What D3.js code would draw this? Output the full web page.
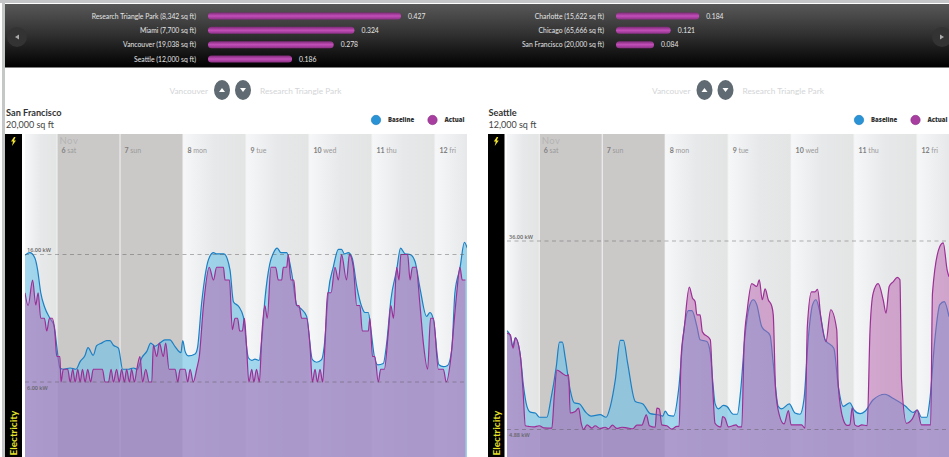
<!DOCTYPE html>
<html>
<head>
	<meta charset="utf-8">
	<script src="https://d3js.org/d3.v7.min.js"></script>
	<title>Electricity baseline vs actual</title>
	<style>
		html, body { margin: 0; padding: 0; background: #fff; overflow: hidden; }
		svg { display: block; font-family: Lato, sans-serif; }
		.domain { display: none; }
	</style>
</head>
<body>
	<div id="chart"></div>

	<script type="text/javascript">
		// ranking bars in the dark header
		var rankLeftNames = ["Research Triangle Park (8,342 sq ft)", "Miami (7,700 sq ft)", "Vancouver (19,038 sq ft)", "Seattle (12,000 sq ft)"];
		var rankLeftValues = [0.427, 0.324, 0.278, 0.186];
		var rankRightNames = ["Charlotte (15,622 sq ft)", "Chicago (65,666 sq ft)", "San Francisco (20,000 sq ft)"];
		var rankRightValues = [0.184, 0.121, 0.084];

		var dayLabels = ["6 sat", "7 sun", "8 mon", "9 tue", "10 wed", "11 thu", "12 fri"];
		var weekendDays = ["6 sat", "7 sun"];
		var legendNames = ["Baseline", "Actual"];

		// [hours since Nov 6 00:00, kW]
		var sfBaseline = [[-12.2,15.95],[-10.3,16.15],[-8.4,15.7],[-7.4,14.8],[-6.2,13],[-4.6,11.8],[-2.7,11],[-1.1,10.4],[-0.1,8.8],[1.1,7.1],[2.4,7],[5,7.1],[7.2,7],[8.8,7.6],[10.7,8.1],[11.8,8.7],[13.8,8.1],[15.1,8.85],[17,9.05],[18.9,9.25],[20.2,9.25],[21.4,8.9],[23.4,8.65],[25,7],[27.2,7],[29.1,7.1],[30.6,7],[32.3,7.9],[34.2,8.4],[35.7,9.05],[37.3,8.8],[39.2,9.05],[41.1,9.3],[43,9.3],[44.9,8.8],[47.2,8.3],[47.9,9.25],[48.8,8.4],[50,8.05],[52.6,8.2],[53.5,8.65],[55.1,12.2],[57.7,15.6],[59.6,16.15],[60.8,16.05],[63.6,16.05],[65.9,14.8],[67.2,12.3],[69.3,11.9],[71,11.1],[72.9,7.9],[74.2,7.7],[75.4,7.8],[77,7.7],[78,9.3],[79.2,12.45],[81.1,15.3],[82.4,16.1],[83.9,16.5],[85.3,16.15],[87.5,16.15],[89.4,14.55],[91.3,12.05],[93.2,11.7],[95.1,11.15],[97.3,7.75],[98.9,7.55],[100.8,7.75],[101.8,8.8],[103.4,13.1],[105.3,15.05],[107.2,16.4],[108.4,16.4],[109.5,16.05],[111,16.15],[112.5,15.7],[114.2,13.5],[116.1,11.9],[117.3,11.45],[118.6,11.45],[119.6,10.1],[120.9,8],[122.2,7.35],[124.3,7.45],[125.6,9.05],[127.2,12.45],[129.4,14.8],[130.9,16.5],[132.6,16.05],[134.5,16],[136.4,15.45],[138.3,13.35],[140.8,11.15],[142.1,11.45],[143.4,10.9],[145.5,7.35],[147.2,7.2],[148.8,7.3],[150.4,8.55],[151.6,13],[153.5,14.9],[155.2,16.95],[156.3,16.5]];
		var sfActual = [[-12.2,13],[-11,12],[-9.3,14],[-8.1,12.05],[-7.2,13],[-6.2,11],[-4.8,11],[-3.9,10],[-2.9,11],[-1.8,11],[-0.8,9.85],[-0.1,8],[1.1,8],[1.5,6],[2.4,7],[4.1,7],[5,6],[6,7],[6.9,6],[7.9,7],[8.8,6],[9.7,7],[10.7,6],[11.7,7],[12.8,6],[13.8,7],[17.3,7],[18.3,6],[19.6,6],[20.6,7],[21.5,6],[22.7,7],[23.7,6],[24.6,7],[25.7,6],[26.5,7],[27.6,6],[28.4,7],[29.5,6],[30.4,7],[31.6,8],[32.6,6],[33.8,7],[35.1,6],[36.1,6],[36.7,8.9],[38,8],[39,9.05],[40.5,8],[41.4,9.05],[42.7,7],[45,7],[46,6],[46.9,7],[48.8,7],[49.8,6],[50.7,7],[51.9,6],[53.2,7],[54.2,8],[55.8,12],[58,15],[59.6,14],[60.8,15],[63.4,15],[64,14],[65.7,14],[66.8,10.1],[67.8,11],[68.8,11],[69.6,10],[70.6,10],[71.4,11],[72.2,8.8],[73.1,6],[74.2,7],[75,6],[76,7],[77.1,6],[78,9.6],[79.2,12],[80.1,11],[81.5,15],[83.3,15],[84.3,14],[85.6,14],[86.2,15],[87.5,15],[88.1,16],[89.1,14],[90.2,14],[91.2,12],[92.2,12],[93.2,11],[95.1,11],[96.4,8.8],[97.3,6],[98.3,7],[99.2,6],[100.2,7],[101.2,6],[102.1,9],[103.1,13],[104.4,13],[105.9,15],[107.2,14],[108.4,16],[110.3,14],[111.4,16],[112.9,15],[114.2,12],[115.4,12],[116.3,10],[118.6,10],[119.2,11],[120.2,8],[121.1,8],[122.4,6],[123.3,7],[124.7,7],[126.2,9.85],[127.2,12],[128.2,11],[129.4,15],[130.3,14],[131,16],[133.6,16],[134.5,14],[135.4,15],[136.8,15],[138.3,12],[139.6,9],[141.2,7],[142.3,11],[143.4,11],[145.3,7],[147.2,7],[148.3,6],[150.1,8],[151.4,11],[152.3,13],[153.5,15],[154.4,14],[155.6,14]];
		var seBaseline = [[-12.3,21.2],[-11,20.24],[-10.2,18.6],[-9.1,20],[-7.2,17],[-6,12],[-4.7,8.7],[-3.4,7.75],[-1.5,7.6],[0.1,6.9],[2.9,6.9],[4.4,9.8],[6.5,15.3],[7.7,19.3],[8.8,19.3],[9.9,16.7],[11.8,11.4],[13.3,9.3],[15.4,9.1],[17.5,7.85],[19.8,7.1],[23.2,7.35],[25.5,6.9],[27.1,8.7],[29,13.1],[30.9,19.6],[32.1,19.6],[33.7,15.8],[36.6,9.5],[39.5,9.1],[42.3,7.5],[45.5,7.3],[47.1,7.1],[48,7.9],[49.3,7.2],[51.2,7.1],[53.1,11.4],[55,20.8],[56.9,24.5],[58.2,24.5],[60.1,21.9],[61.3,19.7],[63.9,19.4],[65.2,17.5],[66.2,12.5],[67,9.2],[68.3,8.3],[70.2,8.85],[71.5,8.7],[74,7.4],[75.5,7.4],[76.8,11.4],[78.4,20.2],[80.3,25.5],[81.6,26.3],[82.9,25.5],[84.8,21.9],[88,20.4],[89.2,15.8],[91.1,8.7],[92.4,8.3],[95.3,9.1],[97.5,7.6],[99.4,7.4],[100.9,9.8],[102.6,20.2],[104.2,25.5],[105.5,26.3],[106.8,24.6],[109,19.7],[112.3,18.3],[114,12],[115.9,8.7],[118.4,9.3],[120,8.1],[122.3,7.5],[124.2,7.9],[127.3,9.8],[131.8,10.7],[135,10],[139.4,8.8],[142.6,7.7],[144.1,8.1],[145.7,6.9],[147.7,6.9],[148.9,9.8],[150.8,19.7],[152.7,25.5],[154.4,26],[156.2,23.5]];
		var seActual = [[-12.3,20.8],[-11,20.5],[-10,18.3],[-9.1,20],[-7.2,17],[-6.2,11.4],[-5.3,5.5],[-4.1,5.4],[-2.2,5.3],[0,5.5],[1.7,5.15],[4.8,5.1],[5.7,10.3],[6.7,14.7],[8.6,14.2],[10.3,13.75],[11.2,13.9],[11.8,7.6],[13.7,7.85],[15,8.4],[16,5.9],[16.9,4.9],[18.2,5.65],[20.1,5.1],[21.3,5.5],[23.2,5.05],[25.1,5.25],[26.4,5],[27.9,5.6],[29.6,5.05],[31.5,5.25],[33.4,5.15],[35.7,5],[37.2,5.6],[39.1,5.6],[40.8,7.3],[42,5.5],[44.2,5.25],[44.8,8.4],[45.8,8.25],[46.7,5.65],[48.6,5.5],[50.5,4.95],[52.5,5.4],[53.3,5.4],[54.1,17],[55.2,21.35],[57.2,28.4],[58.4,26.6],[59.4,26],[60.1,23.8],[61.3,23.8],[62.2,21],[65.2,19.7],[66.1,12],[67,5.9],[68.3,5.4],[69.2,5.3],[69.9,7],[70.8,6.75],[72.1,5.3],[73.7,5.5],[75,5.65],[75.9,5.3],[77.2,5.3],[78.1,19.1],[79.3,24.65],[81,28.95],[82.9,28.5],[83.9,29.6],[85,26.3],[86.1,28.1],[87.3,26.3],[88.6,25.3],[89.2,23.8],[90.1,11.4],[91.5,7.3],[93.3,5.8],[95,8],[96,5.65],[98.1,5.65],[100,5.65],[101.3,5.1],[102.2,21.9],[103.8,27.6],[105.1,27.6],[106.1,28],[107.3,23.5],[109.3,19.4],[111.1,24.65],[113.4,21.35],[114,12],[115.9,6.5],[117.4,5.55],[118.4,5.65],[119.3,8.5],[120.3,5.65],[121.6,5.4],[122.9,5.65],[125,5.5],[126.1,21.35],[127.3,27.4],[129.2,28.95],[131.1,26.3],[132.2,24.1],[133.4,28.5],[135,29.3],[136.5,30],[137.5,29.6],[138.1,13.1],[140,5.9],[142,6.5],[144.1,8.1],[145.7,5.65],[147.7,5.65],[149.2,5.65],[149.9,27.4],[152.7,35.1],[154,35.7],[155.5,31.2],[156.2,30.1]];

		var width = 949, height = 457;
		var blue = "#1b7fc4", purple = "#9c2f96";

		var svg = d3.select("#chart").append("svg")
			.attr("width", width)
			.attr("height", height);
		var defs = svg.append("defs");

		var headGrad = defs.append("linearGradient").attr("id", "headGrad").attr("x2", 0).attr("y2", 1);
		headGrad.append("stop").attr("offset", 0).attr("stop-color", "#585858");
		headGrad.append("stop").attr("offset", 0.45).attr("stop-color", "#333");
		headGrad.append("stop").attr("offset", 1).attr("stop-color", "#000");

		var barGrad = defs.append("linearGradient").attr("id", "barGrad").attr("x2", 0).attr("y2", 1);
		barGrad.append("stop").attr("offset", 0).attr("stop-color", "#7d2a78");
		barGrad.append("stop").attr("offset", 0.5).attr("stop-color", "#c34fb9");
		barGrad.append("stop").attr("offset", 1).attr("stop-color", "#8a2f84");

		var dayGrad = defs.append("linearGradient").attr("id", "dayGrad");
		dayGrad.append("stop").attr("offset", 0).attr("stop-color", "#f6f7f9");
		dayGrad.append("stop").attr("offset", 0.5).attr("stop-color", "#e7e8e9");
		dayGrad.append("stop").attr("offset", 1).attr("stop-color", "#e3e4e4");

		// page frame
		svg.append("rect").attr("x", 0).attr("y", 0).attr("width", width).attr("height", 3).attr("fill", "#c4c6c8");
		svg.append("rect").attr("x", 2).attr("y", 0).attr("width", 3).attr("height", height).attr("fill", "#c4c6c8");
		svg.append("rect").attr("x", 5).attr("y", 4).attr("width", width - 5).attr("height", 63.5).attr("fill", "url(#headGrad)");

		// header arrows
		function headArrow(cx, dir) {
			svg.append("circle").attr("cx", cx).attr("cy", 37).attr("r", 10).attr("fill", "#333");
			svg.append("path")
				.attr("d", d3.line()([[cx - 2 * dir, 34.5], [cx + 2 * dir, 37], [cx - 2 * dir, 39.5]]))
				.attr("fill", "#aaa");
		}
		headArrow(17, -1);
		headArrow(942, 1);

		// same units-to-pixels scale for both columns of bars
		var barScale = d3.scaleLinear().domain([0, 0.427]).range([0, 193]);
		var rowScale = d3.scalePoint().domain([0, 1, 2, 3]).range([16, 59]);

		function drawRanks(names, values, labelX, barX) {
			var g = svg.append("g");
			var rows = g.selectAll("g").data(names).enter().append("g")
				.attr("transform", function(d, i){ return "translate(0," + rowScale(i) + ")"; });
			rows.append("text")
				.attr("x", labelX).attr("y", 2.5)
				.attr("text-anchor", "end").attr("font-size", 6.8).attr("fill", "#e4e4e4")
				.text(function(d){ return d; });
			rows.append("rect")
				.attr("x", barX).attr("y", -3.5)
				.attr("width", function(d, i){ return barScale(values[i]); })
				.attr("height", 7).attr("rx", 3.5)
				.attr("fill", "url(#barGrad)");
			rows.append("text")
				.attr("x", function(d, i){ return barX + barScale(values[i]) + 7; })
				.attr("y", 2.5)
				.attr("font-size", 6.8).attr("fill", "#e4e4e4")
				.text(function(d, i){ return values[i].toFixed(3); });
		}
		drawRanks(rankLeftNames, rankLeftValues, 196, 208);
		drawRanks(rankRightNames, rankRightValues, 604, 616);

		// one site panel
		function drawPanel(p) {
			var plotTop = 134, plotBottom = height;
			var x = d3.scaleLinear().domain([p.h0, 156.2]).range([p.plotLeft, p.plotRight]);
			var y = d3.scaleLinear().domain([p.lowKw, p.highKw]).range([p.lowY, p.highY]);
			var g = svg.append("g");

			// prev / next row
			g.append("text").attr("x", p.navX - 14).attr("y", 94).attr("text-anchor", "end")
				.attr("font-size", 8.3).attr("fill", "#d3d5d7").text("Vancouver");
			g.append("text").attr("x", p.navX + 38).attr("y", 94)
				.attr("font-size", 8.3).attr("fill", "#d3d5d7").text("Research Triangle Park");
			[0, 1].forEach(function(i){
				var cx = p.navX + i * 21, dir = i == 0 ? -1 : 1;
				g.append("ellipse").attr("cx", cx).attr("cy", 90).attr("rx", 8).attr("ry", 10).attr("fill", "#5f6a72");
				g.append("path")
					.attr("d", d3.line()([[cx - 3, 90 - 2 * dir], [cx + 3, 90 - 2 * dir], [cx, 90 + 2 * dir]]))
					.attr("fill", "#fff");
			});

			// title
			g.append("text").attr("x", p.titleX).attr("y", 116).attr("font-size", 9.2).attr("font-weight", 700)
				.attr("fill", "#333").text(p.name);
			g.append("text").attr("x", p.titleX).attr("y", 128).attr("font-size", 9)
				.attr("fill", "#444").text(p.area);

			// legend
			legendNames.forEach(function(name, i){
				var cx = p.legendX + i * 56.5;
				g.append("circle").attr("cx", cx).attr("cy", 120).attr("r", 4.7)
					.attr("fill", i == 0 ? "#2a93d5" : "#a83ea0")
					.attr("stroke", i == 0 ? "#1b78b5" : "#8a2f84").attr("stroke-width", 0.6);
				g.append("text").attr("x", cx + 12).attr("y", 122).attr("font-size", 6)
					.attr("font-family", "Open Sans").attr("font-weight", 800)
					.attr("fill", "#333").text(name);
			});

			// black side strip
			g.append("rect").attr("x", p.stripX).attr("y", plotTop).attr("width", p.stripW).attr("height", plotBottom - plotTop).attr("fill", "#000");
			var bx = p.stripX + p.stripW / 2;
			g.append("path")
				.attr("d", d3.line()([[bx + 0.5, 137], [bx - 2.5, 141.5], [bx - 0.5, 141.5], [bx - 1.5, 146], [bx + 2.5, 140.5], [bx + 0.5, 140.5], [bx + 2, 137]]))
				.attr("fill", "#f2e530");
			g.append("text")
				.attr("transform", "translate(" + (bx + 3.5) + ",455.5) rotate(-90)")
				.attr("font-size", 10).attr("font-weight", 700).attr("fill", "#e6e229")
				.text("Electricity");

			var clipId = "clip" + p.id;
			defs.append("clipPath").attr("id", clipId).append("rect")
				.attr("x", p.plotLeft).attr("y", plotTop)
				.attr("width", p.plotRight - p.plotLeft).attr("height", plotBottom - plotTop);
			var plot = g.append("g").attr("clip-path", "url(#" + clipId + ")");

			// day bands, the stub before Nov 6 starts at the plot edge
			var bands = ["5"].concat(dayLabels);
			plot.selectAll("rect.day").data(bands).enter().append("rect")
				.attr("class", "day")
				.attr("x", function(d, i){ return i == 0 ? x(p.h0) : x((i - 1) * 24); })
				.attr("y", plotTop)
				.attr("width", function(d, i){ return i == 0 ? x(0) - x(p.h0) : x(24) - x(0); })
				.attr("height", plotBottom - plotTop)
				.attr("fill", function(d){ return weekendDays.indexOf(d) >= 0 ? "#cbc9c8" : "url(#dayGrad)"; });
			plot.selectAll("rect.sep").data(dayLabels).enter().append("rect")
				.attr("class", "sep")
				.attr("x", function(d, i){ return x(i * 24) - 0.5; })
				.attr("y", plotTop).attr("width", 1)
				.attr("height", plotBottom - plotTop)
				.attr("fill", "#f3f3f3");

			function area(data) {
				return d3.area()
					.x(function(d){ return x(d[0]); })
					.y0(plotBottom)
					.y1(function(d){ return y(d[1]); })
					.curve(d3.curveMonotoneX)(data);
			}
			function line(data) {
				return d3.line()
					.x(function(d){ return x(d[0]); })
					.y(function(d){ return y(d[1]); })
					.curve(d3.curveMonotoneX)(data);
			}

			plot.append("path").attr("d", area(p.baseline)).attr("fill", "#6cc3e8").attr("opacity", 0.6);
			plot.append("path").attr("d", line(p.baseline)).attr("fill", "none").attr("stroke", blue).attr("stroke-width", 1.2);
			plot.append("path").attr("d", area(p.actual)).attr("fill", "#b85fae").attr("opacity", 0.5);
			plot.append("path").attr("d", line(p.actual)).attr("fill", "none").attr("stroke", purple).attr("stroke-width", 1.2);

			// threshold lines
			[p.highKw, p.lowKw].forEach(function(kw, i){
				plot.append("line")
					.attr("x1", p.plotLeft).attr("x2", p.plotRight)
					.attr("y1", y(kw)).attr("y2", y(kw))
					.attr("stroke", "#555").attr("stroke-opacity", 0.55).attr("stroke-width", 0.8)
					.attr("stroke-dasharray", "4 3.5");
				plot.append("text")
					.attr("x", p.plotLeft + 2)
					.attr("y", y(kw) + (i == 0 ? -2.5 : 7.5))
					.attr("font-family", "Open Sans")
					.attr("font-size", 5.5).attr("font-weight", 600).attr("fill", "#666")
					.text(kw.toFixed(2) + " kW");
			});

			// day labels as a tick axis along the top, number bold and weekday plain
			var dayAxis = d3.axisBottom(x)
				.tickValues(dayLabels.map(function(d, i){ return i * 24; }))
				.tickSize(0)
				.tickFormat(function(d){ return dayLabels[d / 24]; });
			var axisG = plot.append("g").attr("transform", "translate(0,150.5)").call(dayAxis);
			axisG.selectAll("text")
				.attr("y", 0).attr("dy", "0.32em").attr("dx", 4)
				.attr("text-anchor", "start")
				.attr("font-family", "Lato").attr("font-size", 7)
				.attr("fill", "#999")
				.each(function(){
					var t = d3.select(this), parts = t.text().split(" ");
					t.text(null);
					t.append("tspan").attr("font-weight", 700).attr("fill", "#808080").text(parts[0] + " ");
					t.append("tspan").text(parts[1]);
				});
			plot.append("text").attr("x", x(0) + 2.5).attr("y", 143.5)
				.attr("font-size", 9.5).attr("letter-spacing", 0.5).attr("fill", "#b4b4b4").text("Nov");
		}

		drawPanel({
			id: "sf", name: "San Francisco", area: "20,000 sq ft",
			baseline: sfBaseline, actual: sfActual,
			lowKw: 6, highKw: 16, lowY: 382, highY: 254.5,
			h0: -12.2, plotLeft: 25, plotRight: 467,
			stripX: 5, stripW: 17, titleX: 6, legendX: 376, navX: 222
		});
		drawPanel({
			id: "se", name: "Seattle", area: "12,000 sq ft",
			baseline: seBaseline, actual: seActual,
			lowKw: 4.88, highKw: 36, lowY: 429.5, highY: 241,
			h0: -12.3, plotLeft: 507, plotRight: 949,
			stripX: 488, stripW: 16.5, titleX: 488.5, legendX: 859, navX: 704.5
		});
	</script>
</body>
</html>
